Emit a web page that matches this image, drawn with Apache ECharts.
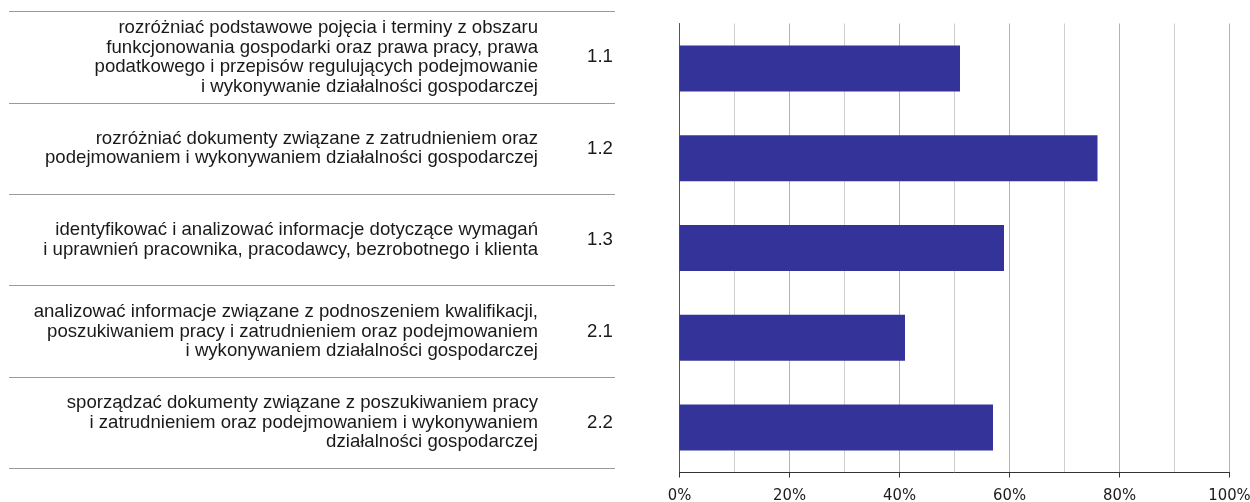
<!DOCTYPE html>
<html>
<head>
<meta charset="utf-8">
<script src="https://cdn.jsdelivr.net/npm/echarts@6/dist/echarts.min.js"></script>
<style>
  html, body { margin: 0; padding: 0; background: #ffffff; }
  #chart { width: 1250px; height: 502px; }
</style>
</head>
<body>
<div id="chart"></div>
<script>
// Skill codes shown in the table column
const categories = ['1.1', '1.2', '1.3', '2.1', '2.2'];

// Skill descriptions, one entry per row, broken into the printed lines
const descriptions = [
  'rozróżniać podstawowe pojęcia i terminy z obszaru\nfunkcjonowania gospodarki oraz prawa pracy, prawa\npodatkowego i przepisów regulujących podejmowanie\ni wykonywanie działalności gospodarczej',
  'rozróżniać dokumenty związane z zatrudnieniem oraz\npodejmowaniem i wykonywaniem działalności gospodarczej',
  'identyfikować i analizować informacje dotyczące wymagań\ni uprawnień pracownika, pracodawcy, bezrobotnego i klienta',
  'analizować informacje związane z podnoszeniem kwalifikacji,\nposzukiwaniem pracy i zatrudnieniem oraz podejmowaniem\ni wykonywaniem działalności gospodarczej',
  'sporządzać dokumenty związane z poszukiwaniem pracy\ni zatrudnieniem oraz podejmowaniem i wykonywaniem\ndziałalności gospodarczej'
];

// Share of points scored per skill, in percent
const shares = [51, 76, 59, 41, 57];

const textColor = '#1a1a1a';
const bodyFont = '"Liberation Sans", Arial, sans-serif';
const narrowFont = '"Liberation Sans Narrow", "Arial Narrow", "DejaVu Sans Condensed", sans-serif';

const chart = echarts.init(document.getElementById('chart'), null, { renderer: 'canvas' });

chart.setOption({
  animation: false,
  backgroundColor: '#ffffff',
  grid: [
    // bar plot
    { left: 679.5, right: 20.5, top: 23.5, bottom: 29.5, containLabel: false, outerBoundsMode: 'none' },
    // table with descriptions and codes
    { left: 9, right: 635, top: 11.5, bottom: 33.5, containLabel: false, outerBoundsMode: 'none' }
  ],
  xAxis: [
    {
      gridIndex: 0,
      type: 'value',
      min: 0,
      max: 100,
      interval: 20,
      axisLine: { show: true, lineStyle: { color: '#333333', width: 1 } },
      axisTick: { show: true, length: 5, lineStyle: { color: '#333333' } },
      axisLabel: {
        formatter: '{value}%',
        color: textColor,
        fontFamily: narrowFont,
        fontSize: 16.5,
        margin: 15
      },
      splitLine: { show: true, lineStyle: { color: '#b4b4b4', width: 1 } },
      minorTick: { show: false, splitNumber: 2 },
      minorSplitLine: { show: true, lineStyle: { color: '#cfcfcf', width: 1 } }
    },
    {
      gridIndex: 1,
      type: 'value',
      show: false
    }
  ],
  yAxis: [
    {
      gridIndex: 0,
      type: 'category',
      data: categories,
      inverse: true,
      axisLine: { show: true, lineStyle: { color: '#555555', width: 1 } },
      axisTick: { show: false },
      axisLabel: { show: false },
      splitLine: { show: false }
    },
    {
      gridIndex: 1,
      type: 'category',
      data: categories,
      inverse: true,
      position: 'left',
      axisLine: { show: false },
      axisTick: { show: false },
      axisLabel: {
        inside: true,
        align: 'right',
        margin: 529,
        color: textColor,
        fontFamily: bodyFont,
        fontSize: 18.6,
        lineHeight: 19.5,
        formatter: (value, idx) => descriptions[idx]
      },
      splitLine: { show: true, lineStyle: { color: '#9a9a9a', width: 1 } }
    },
    {
      gridIndex: 1,
      type: 'category',
      data: categories,
      inverse: true,
      position: 'right',
      axisLine: { show: false },
      axisTick: { show: false },
      axisLabel: {
        inside: true,
        align: 'center',
        margin: 15,
        color: textColor,
        fontFamily: bodyFont,
        fontSize: 18.6
      },
      splitLine: { show: false }
    }
  ],
  series: [
    {
      type: 'bar',
      xAxisIndex: 0,
      yAxisIndex: 0,
      data: shares,
      barWidth: 46,
      itemStyle: { color: '#333399' },
      silent: true
    }
  ]
});
</script>
</body>
</html>
